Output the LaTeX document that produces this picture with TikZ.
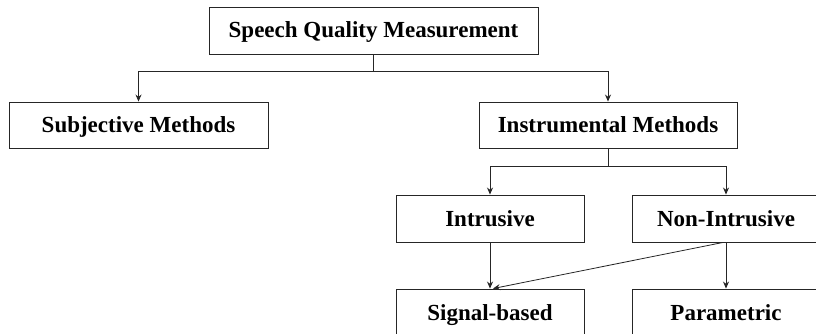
\documentclass[tikz,border=0pt]{standalone}
\usepackage{fontspec}
\setmainfont{Liberation Serif}
\usetikzlibrary{arrows.meta}
\begin{document}
\begin{tikzpicture}[x=1pt,y=-1pt,
  box/.style={draw=black!85, line width=0.9pt, rectangle, inner sep=0pt, align=center,
    text height=18pt, text depth=3pt,
    font=\fontsize{23}{26}\selectfont\bfseries},
  conn/.style={draw=black!85, line width=0.8pt},
  arr/.style={conn, -{Stealth[length=7pt,width=6pt]}}]
\clip (0,0) rectangle (816,334);
\node[box, minimum width=329pt, minimum height=47pt] (top) at (373.5,30.5) {Speech Quality Measurement};
\node[box, minimum width=259pt, minimum height=46pt] (subj) at (138.5,125) {Subjective Methods};
\node[box, minimum width=258pt, minimum height=46pt] (instr) at (608,125) {Instrumental Methods};
\node[box, minimum width=188pt, minimum height=47pt] (intr) at (490,218.5) {Intrusive};
\node[box, minimum width=188pt, minimum height=47pt] (nonintr) at (726,218.5) {Non-Intrusive};
\node[box, minimum width=188pt, minimum height=47pt] (signal) at (490,312.5) {Signal-based};
\node[box, minimum width=188pt, minimum height=47pt] (param) at (726,312.5) {Parametric};
\draw[conn] (top.south) -- ++(0,17) coordinate (b1);
\draw[arr] (b1) -| (subj.north);
\draw[arr] (b1) -| (instr.north);
\draw[conn] (instr.south) -- ++(0,18) coordinate (b2);
\draw[arr] (b2) -| (intr.north);
\draw[arr] (b2) -| (nonintr.north);
\draw[arr] (intr.south) -- (signal.north);
\draw[arr] ([xshift=-3pt]nonintr.south) -- ([xshift=3pt]signal.north);
\draw[arr] (nonintr.south) -- (param.north);
\end{tikzpicture}
\end{document}
